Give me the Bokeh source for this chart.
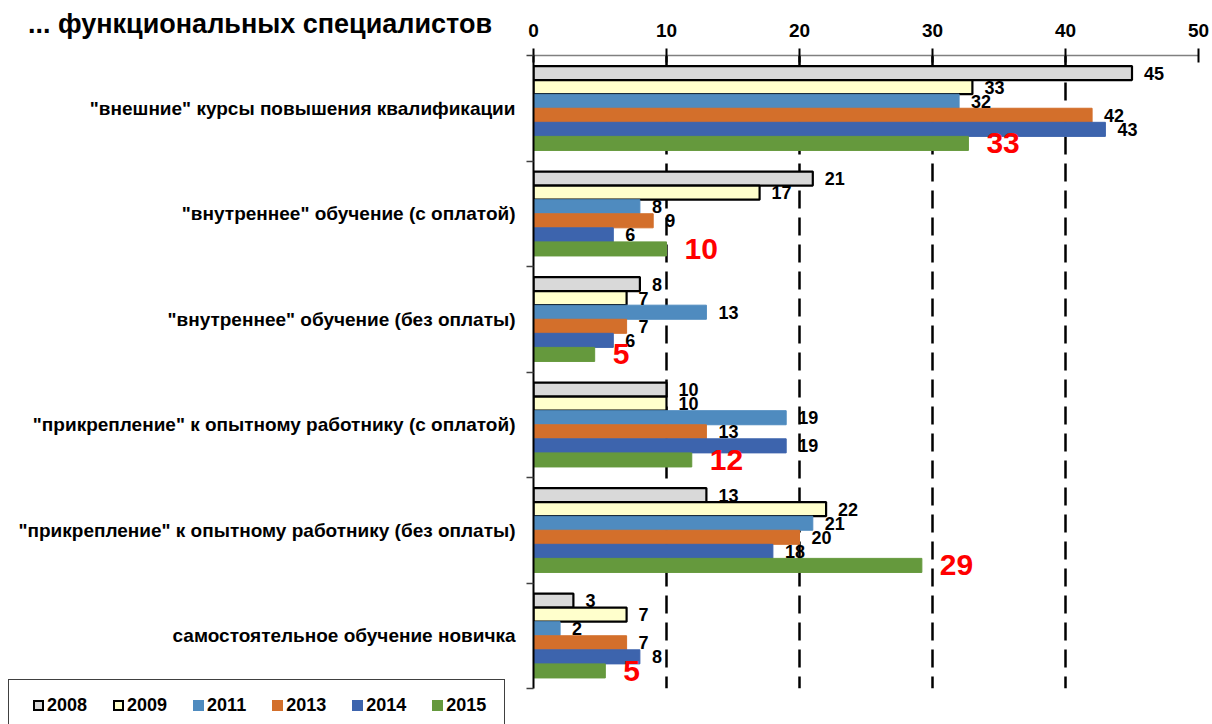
from bokeh.plotting import figure
from bokeh.models import (Range1d, FixedTicker, ColumnDataSource, LabelSet, Div, GridBox)
from bokeh.core.properties import value
from bokeh.transform import dodge
from bokeh.embed import file_html
from bokeh.resources import INLINE

# ---- data ----
categories = [
    '"внешние" курсы повышения квалификации',
    '"внутреннее" обучение (с оплатой)',
    '"внутреннее" обучение (без оплаты)',
    '"прикрепление" к опытному работнику (с оплатой)',
    '"прикрепление" к опытному работнику (без оплаты)',
    'самостоятельное обучение новичка',
]
years = ["2008", "2009", "2011", "2013", "2014", "2015"]
v2008 = [45, 21, 8, 10, 13, 3]
v2009 = [33, 17, 7, 10, 22, 7]
v2011 = [32, 8, 13, 19, 21, 2]
v2013 = [42, 9, 7, 13, 20, 7]
v2014 = [43, 6, 6, 19, 18, 8]
v2015 = [32.7, 10, 4.6, 11.9, 29.2, 5.4]
x_ticks = [0, 10, 20, 30, 40, 50]
title_text = "... функциональных специалистов"

series = [v2008, v2009, v2011, v2013, v2014, v2015]
fills = ["#d9d9d9", "#ffffcc", "#4f8bbf", "#d36f2b", "#3d64ad", "#65993d"]
lines = ["#000000", "#000000", "#4f8bbf", "#d36f2b", "#3d64ad", "#65993d"]
lwidths = [2.2, 2.2, 1, 1, 1, 1]

FONT = "Liberation Sans"
W, H = 1212, 724

data = {"idx": list(range(len(categories)))}
for y, s in zip(years, series):
    data["v" + y] = s
    data["l" + y] = [str(int(round(v))) for v in s]
src = ColumnDataSource(data)

# ---------------- main chart ----------------
p = figure(width=W, height=H, title=None,
           x_range=Range1d(0, 50), y_range=Range1d(5.5, -0.5),
           x_axis_location="above", output_backend="svg", toolbar_location=None,
           min_border_left=533, min_border_right=14, min_border_top=55, min_border_bottom=36)
p.outline_line_color = None
p.background_fill_color = "white"

# x axis (top)
p.xaxis.ticker = FixedTicker(ticks=x_ticks)
p.xaxis.major_label_text_font = FONT
p.xaxis.major_label_text_font_style = "bold"
p.xaxis.major_label_text_font_size = "19px"
p.xaxis.major_label_text_color = "black"
p.xaxis.axis_line_color = "#808080"
p.xaxis.axis_line_width = 1.5
p.xaxis.major_tick_line_color = "black"
p.xaxis.major_tick_line_width = 2
p.xaxis.major_tick_in = 7
p.xaxis.major_tick_out = 7
p.xaxis.minor_tick_line_color = None
p.xaxis.major_label_standoff = 12

# y axis (categories)
n = len(categories)
p.yaxis.ticker = FixedTicker(ticks=list(range(n)),
                             minor_ticks=[i - 0.5 for i in range(n + 1)])
p.yaxis.major_label_overrides = {i: c for i, c in enumerate(categories)}
p.yaxis.major_tick_line_color = None
p.yaxis.major_tick_out = 0
p.yaxis.major_tick_in = 0
p.yaxis.minor_tick_line_color = "#404040"
p.yaxis.minor_tick_line_width = 1.5
p.yaxis.minor_tick_out = 7
p.yaxis.minor_tick_in = 0
p.yaxis.axis_line_color = "black"
p.yaxis.axis_line_width = 2
p.yaxis.major_label_standoff = 11
p.yaxis.major_label_text_font = FONT
p.yaxis.major_label_text_font_style = "bold"
p.yaxis.major_label_text_font_size = "19px"
p.yaxis.major_label_text_color = "black"

# grid
p.xgrid.grid_line_color = "black"
p.xgrid.grid_line_width = 2.5
p.xgrid.grid_line_dash = "18 9"
p.ygrid.grid_line_color = None

# bars + value labels
bar_h = 0.8 / len(years)
for j, y in enumerate(years):
    off = -0.4 + bar_h * (j + 0.5)
    p.hbar(y=dodge("idx", off, range=p.y_range), left=0, right="v" + y,
           height=bar_h, source=src, fill_color=fills[j],
           line_color=lines[j], line_width=lwidths[j])
    if y == "2015":
        lab = LabelSet(x="v" + y, y=dodge("idx", off, range=p.y_range), text="l" + y,
                       source=src, x_offset=18, text_baseline="middle",
                       text_font=value(FONT), text_font_style="bold",
                       text_font_size="30px", text_color="#ff0000")
    else:
        lab = LabelSet(x="v" + y, y=dodge("idx", off, range=p.y_range), text="l" + y,
                       source=src, x_offset=12, text_baseline="middle",
                       text_font=value(FONT), text_font_style="bold",
                       text_font_size="18px", text_color="black")
    p.add_layout(lab)

# ---------------- transparent overlay: title + legend (HTML text) ----------------
legend_items = []
for j, y in enumerate(years):
    border = "2px solid #000" if lines[j] == "#000000" else "none"
    legend_items.append(
        '<span style="display:inline-flex;align-items:center;font-size:18px;'
        'line-height:22px;white-space:nowrap">'
        f'<span style="display:inline-block;width:11px;height:11px;box-sizing:border-box;'
        f'background:{fills[j]};border:{border};margin-right:3px"></span>{y}</span>'
    )

html = (
    f'<div style="position:relative;width:{W}px;height:{H}px;overflow:hidden;'
    "font-family:'Liberation Sans',Arial,sans-serif;font-weight:bold;color:#000\">"
    '<div style="position:absolute;left:28px;top:11px;font-size:27px;line-height:27px;'
    f'white-space:nowrap">{title_text}</div>'
    '<div style="position:absolute;left:8px;top:679px;width:497px;height:45px;'
    'box-sizing:border-box;border:1px solid #404040;border-bottom:none;background:#fff;'
    'display:flex;align-items:center;padding:6px 0 0 24px;gap:26px">'
    + "".join(legend_items) +
    '</div></div>'
)
overlay = Div(text=html, width=W, height=H, margin=0)

layout = GridBox(children=[(p, 0, 0), (overlay, 0, 0)])

open("out.html", "w").write(file_html(layout, INLINE))
